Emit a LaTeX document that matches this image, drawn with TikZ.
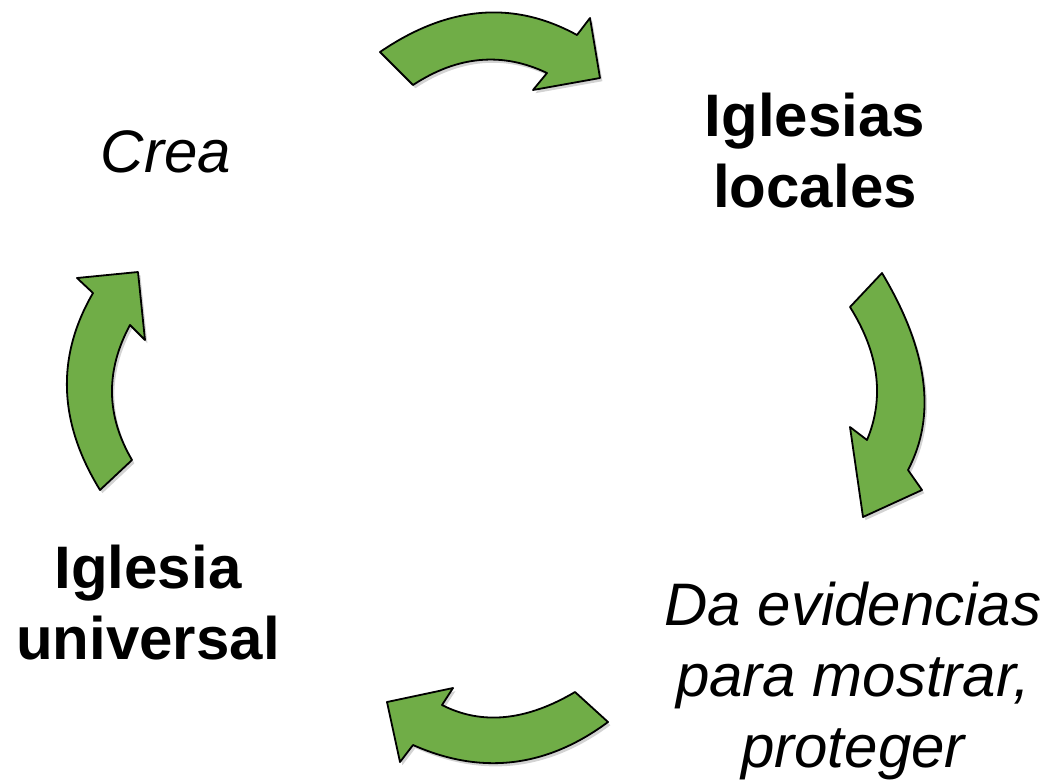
\documentclass[tikz,border=0pt]{standalone}
\usepackage{fontspec}
\setmainfont{Liberation Sans}
\usetikzlibrary{shadows}
\definecolor{leafgreen}{RGB}{112,173,71}

\begin{document}
\begin{tikzpicture}[x=0.5pt, y=-0.5pt, line join=round,
    bentarrow/.style={fill=leafgreen, draw=black, line width=0.9pt,
      drop shadow={opacity=0.35, shadow xshift=1.2pt, shadow yshift=-1.6pt}},
    label/.style={align=center, inner sep=0pt,
      font=\fontsize{30}{35.5}\selectfont}]

    % Frame
    \useasboundingbox (0,0) rectangle (1055,783);

    % Curved arrows
    \path[bentarrow] (380,52) .. controls (447.7,5.7) and (513.3,0) .. (577,35) -- (590,18)
      -- (600,78) -- (533,90) -- (547,73)
      .. controls (502.3,51.7) and (457.7,55.7) .. (413,85) -- cycle;
    \path[bentarrow] (882,273) .. controls (928,350) and (936.7,415.7) .. (908,470) -- (922,490)
      -- (863,517) -- (850,427) -- (867,440)
      .. controls (884.7,397.7) and (879,353.3) .. (850,307) -- cycle;
    \path[bentarrow] (608,722) .. controls (546.3,767.7) and (481.3,775.3) .. (413,745) -- (400,762)
      -- (387,702) -- (453,688) -- (442,705)
      .. controls (481.7,725.3) and (526,721) .. (575,692) -- cycle;
    \path[bentarrow] (100,490) .. controls (58.3,422.3) and (56,356.7) .. (93,293) -- (77,278)
      -- (138,272) -- (145,340) -- (130,325)
      .. controls (105.3,370.7) and (106,415.7) .. (132,460) -- cycle;

    % Labels
    \node[label, anchor=base] (crea) at (166,172) {\itshape Crea};
    \node[label, anchor=center] (locales) at (815,151) {\bfseries Iglesias\\\bfseries locales};
    \node[label, anchor=center] (universal) at (148,603) {\bfseries Iglesia\\\bfseries universal};
    \node[label, anchor=center] (evidencias) at (853,681)
      {\itshape Da evidencias\\\itshape para mostrar,\\\itshape proteger};

\end{tikzpicture}
\end{document}
